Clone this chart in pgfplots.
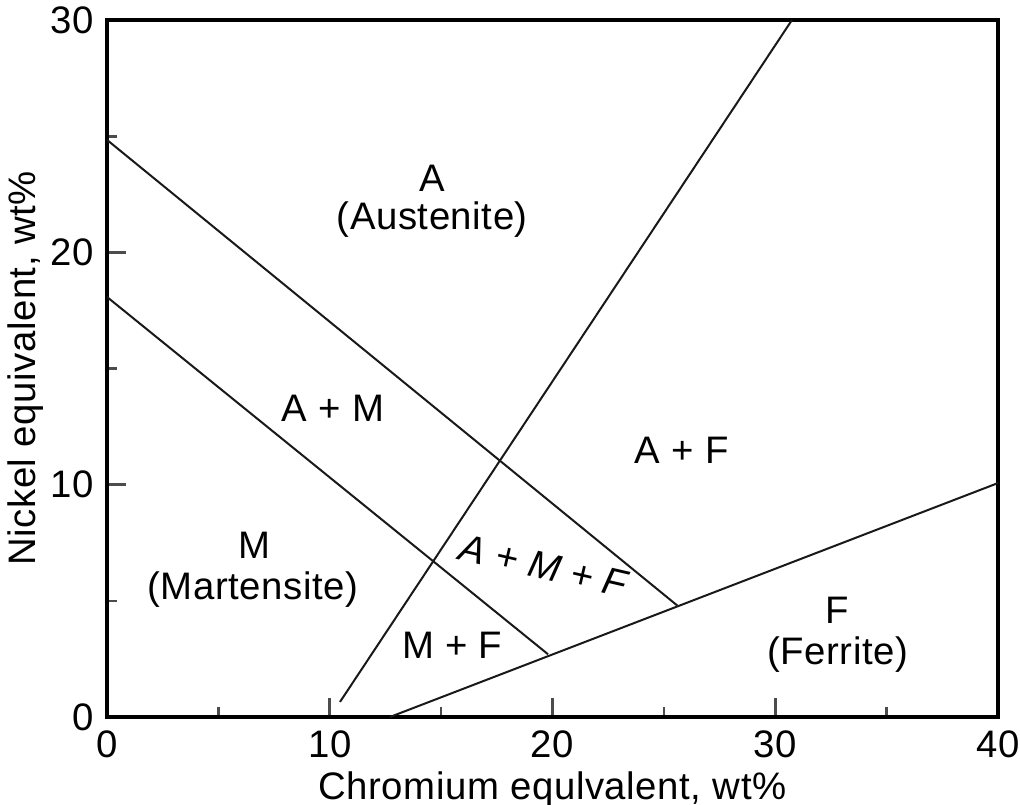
\documentclass[border=0pt]{standalone}
\usepackage{fontspec}
\setmainfont{Liberation Sans}[LetterSpace=1.5]
\usepackage{pgfplots}
\pgfplotsset{compat=1.18}
\begin{document}
\fontsize{11.5}{13}\selectfont
\begin{tikzpicture}
\begin{axis}[
  scale only axis, width=267.3pt, height=209.1pt,
  xmin=0, xmax=40, ymin=0, ymax=30,
  xtick={0,10,20,30,40}, ytick={0,10,20,30},
  minor xtick={5,15,25,35}, minor ytick={5,15,25},
  xtick pos=bottom, ytick pos=left,
  tick align=inside,
  major tick length=5.7pt, minor tick length=3pt,
  tick style={black!70, line width=0.8pt},
  axis line style={black, line width=1pt},
  every tick label/.append style={font=\fontsize{11.5}{13}\selectfont},
  /pgf/number format/assume math mode=true,
  xlabel={Chromium equlvalent, wt\%},
  ylabel={Nickel equivalent, wt\%},
  xlabel style={at={(axis description cs:0.5,-0.119)}, anchor=base, font=\fontsize{11.5}{13}\selectfont},
  ylabel style={at={(axis description cs:-0.0909,0.5)}, anchor=center, font=\fontsize{11.5}{13}\selectfont},
  clip=true,
]
\addplot[black!90, line width=0.6pt] coordinates {(0,24.84) (25.6,4.8)};
\addplot[black!90, line width=0.6pt] coordinates {(0,18.08) (19.8,2.7)};
\addplot[black!90, line width=0.6pt] coordinates {(10.46,0.65) (30.75,30)};
\addplot[black!90, line width=0.6pt] coordinates {(12.7,0) (40,10.07)};

\node at (axis cs:14.6,23.2) {A};
\node at (axis cs:14.6,21.4) {(Austenite)};
\node at (axis cs:10.15,13.3) {A + M};
\node at (axis cs:25.8,11.5) {A + F};
\node at (axis cs:6.64,7.4) {M};
\node at (axis cs:6.55,5.47) {(Martensite)};
\node[rotate=-13, font=\itshape] at (axis cs:19.6,6.5) {A + M + F};
\node at (axis cs:15.5,3.1) {M + F};
\node at (axis cs:32.8,4.6) {F};
\node at (axis cs:32.8,2.67) {(Ferrite)};
\end{axis}
\pgfresetboundingbox
\useasboundingbox ([shift={(-32.1pt,-26.1pt)}]current axis.south west) rectangle ([shift={(6.6pt,6pt)}]current axis.north east);
\end{tikzpicture}
\end{document}
